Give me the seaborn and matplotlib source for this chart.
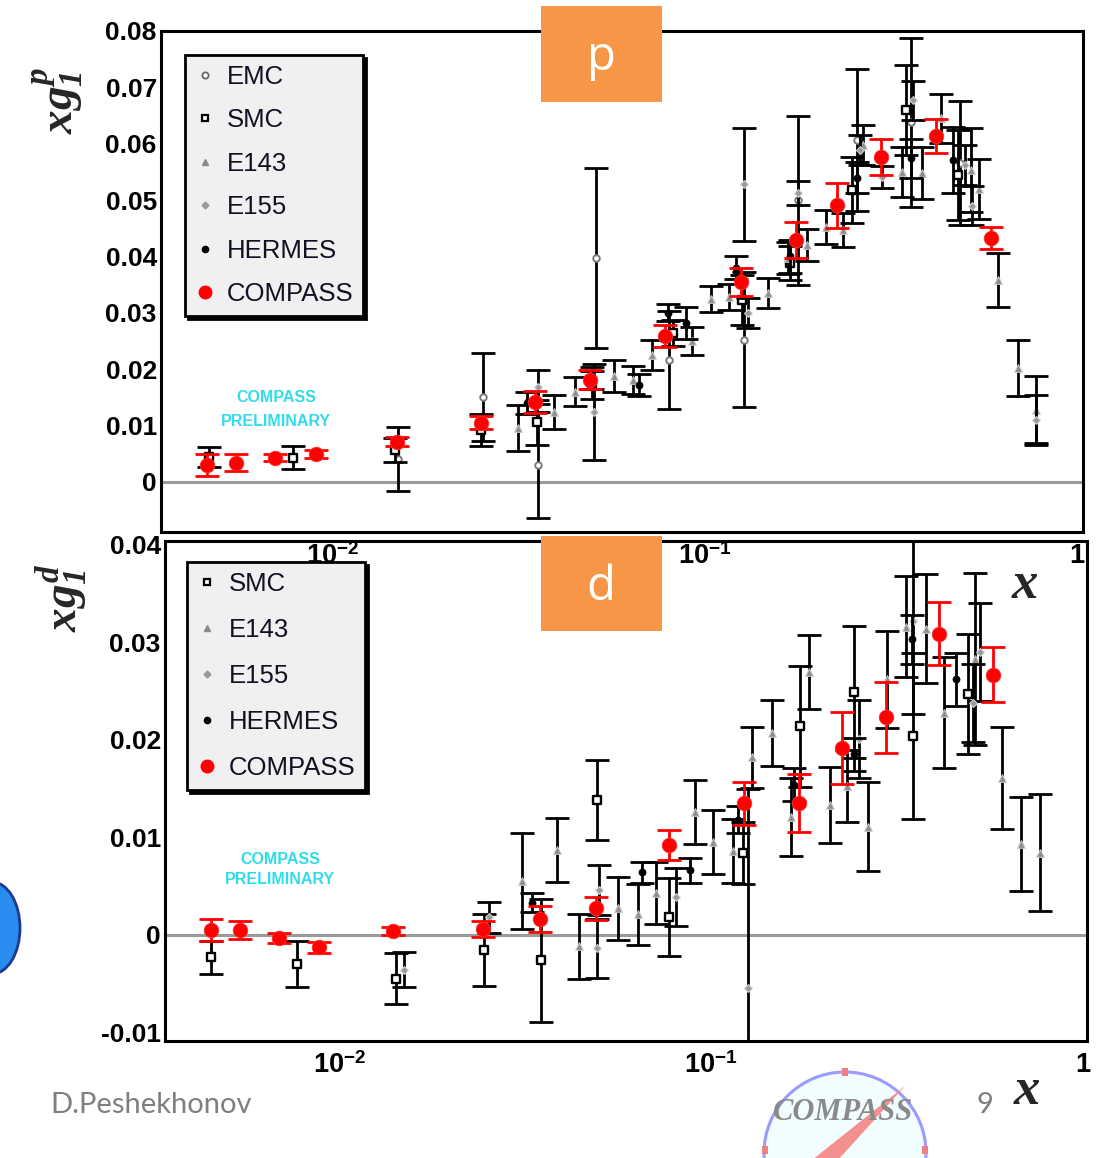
import numpy as np
import matplotlib
matplotlib.use("Agg")
import matplotlib.pyplot as plt
import seaborn as sns
from matplotlib.lines import Line2D
from matplotlib.patches import Rectangle, Polygon, Ellipse
from matplotlib.ticker import FixedLocator, MultipleLocator, FuncFormatter, LogLocator, NullFormatter

# ---------------- data: proton (top panel) ----------------
EMC_P_X = [0.0150, 0.0253, 0.0356, 0.0509, 0.0800, 0.1273, 0.178, 0.256, 0.358, 0.484]
EMC_P_Y = [0.0041, 0.0151, 0.0030, 0.0397, 0.0216, 0.0252, 0.0500, 0.0606, 0.0638, 0.0566]
EMC_P_E = [0.0057, 0.0078, 0.0094, 0.0160, 0.0087, 0.0120, 0.0150, 0.0126, 0.0150, 0.0110]

SMC_P_X = [0.00464, 0.0078, 0.0147, 0.0250, 0.0353, 0.0497, 0.0820, 0.1257, 0.169, 0.248, 0.347, 0.480]
SMC_P_Y = [0.0044, 0.0043, 0.0057, 0.0092, 0.0106, 0.0172, 0.0264, 0.0323, 0.0388, 0.0518, 0.0660, 0.0544]
SMC_P_E = [0.0018, 0.0021, 0.0021, 0.0028, 0.0040, 0.0025, 0.0023, 0.0044, 0.0030, 0.0059, 0.0080, 0.0080]

E143_P_X = [0.0314, 0.0393, 0.0447, 0.0569, 0.0640, 0.0721, 0.0923, 0.1038, 0.1161, 0.1476, 0.1671, 0.188,
            0.2115, 0.235, 0.266, 0.339, 0.383, 0.431, 0.519, 0.545, 0.614, 0.694, 0.776]
E143_P_Y = [0.0096, 0.0124, 0.0160, 0.0188, 0.0181, 0.0225, 0.0250, 0.0324, 0.0328, 0.0335, 0.0397, 0.0420,
            0.0452, 0.0447, 0.0598, 0.0550, 0.0548, 0.0645, 0.0553, 0.0520, 0.0358, 0.0202, 0.0128]
E143_P_E = [0.0041, 0.0030, 0.0026, 0.0028, 0.0025, 0.0027, 0.0025, 0.0023, 0.0023, 0.0026, 0.0029, 0.0029,
            0.0030, 0.0030, 0.0035, 0.0044, 0.0046, 0.0044, 0.0074, 0.0053, 0.0048, 0.0050, 0.0059]

E155_P_X = [0.0356, 0.0503, 0.127, 0.1306, 0.178, 0.261, 0.299, 0.362, 0.50, 0.523, 0.776]
E155_P_Y = [0.0168, 0.0124, 0.0528, 0.0300, 0.0512, 0.0589, 0.0541, 0.0677, 0.0562, 0.0490, 0.0110]
E155_P_E = [0.0030, 0.0085, 0.0100, 0.0027, 0.0021, 0.0027, 0.0020, 0.0035, 0.0035, 0.0035, 0.0044]

HERMES_P_X = [0.0332, 0.0496, 0.0664, 0.0796, 0.0888, 0.121, 0.169, 0.256, 0.358, 0.465]
HERMES_P_Y = [0.0140, 0.0184, 0.0172, 0.0300, 0.0282, 0.0380, 0.0400, 0.0540, 0.0574, 0.0571]
HERMES_P_E = [0.0020, 0.0020, 0.0020, 0.0015, 0.0029, 0.0020, 0.0030, 0.0028, 0.0035, 0.0059]

COMPASS_P_X = [0.0046, 0.0055, 0.0070, 0.0090, 0.0149, 0.0250, 0.0350, 0.0490, 0.0780, 0.1250,
               0.1760, 0.2270, 0.2970, 0.4170, 0.5870]
COMPASS_P_Y = [0.0030, 0.0034, 0.0043, 0.0050, 0.0071, 0.0105, 0.0142, 0.0181, 0.0259, 0.0355,
               0.0429, 0.0491, 0.0576, 0.0613, 0.0433]
COMPASS_P_E = [0.0019, 0.0015, 0.0006, 0.0007, 0.0008, 0.0012, 0.0020, 0.0017, 0.0020, 0.0025,
               0.0032, 0.0040, 0.0032, 0.0030, 0.0020]

# ---------------- data: deuteron (bottom panel) ----------------
SMC_D_X = [0.00453, 0.0077, 0.0142, 0.0245, 0.0349, 0.0494, 0.0771, 0.122, 0.173, 0.242, 0.349, 0.491]
SMC_D_Y = [-0.0023, -0.0030, -0.0045, -0.0016, -0.0026, 0.0138, 0.0018, 0.0084, 0.0214, 0.0249, 0.0204, 0.0247]
SMC_D_E = [0.0017, 0.0024, 0.0026, 0.0037, 0.0063, 0.0041, 0.0040, 0.0032, 0.0062, 0.0068, 0.0085, 0.0062]

E143_D_X = [0.031, 0.0385, 0.0442, 0.0562, 0.0637, 0.0711, 0.0906, 0.1012, 0.1146, 0.129, 0.1459, 0.164,
            0.183, 0.209, 0.2325, 0.264, 0.297, 0.334, 0.378, 0.423, 0.513, 0.606, 0.68, 0.766]
E143_D_Y = [0.0055, 0.0087, -0.0012, 0.0027, 0.0021, 0.0043, 0.0126, 0.0095, 0.0086, 0.0182, 0.0207, 0.0121,
            0.0270, 0.0133, 0.0153, 0.0111, 0.0262, 0.0316, 0.0314, 0.0228, 0.0283, 0.0161, 0.0093, 0.0084]
E143_D_E = [0.0049, 0.0033, 0.0033, 0.0032, 0.0031, 0.0032, 0.0033, 0.0033, 0.0033, 0.0031, 0.0034, 0.0040,
            0.0038, 0.0039, 0.0037, 0.0046, 0.0050, 0.0052, 0.0056, 0.0057, 0.0088, 0.0052, 0.0048, 0.0060]

E155_D_X = [0.0149, 0.0252, 0.0494, 0.050, 0.0805, 0.1257, 0.25, 0.349, 0.506, 0.53]
E155_D_Y = [-0.0036, 0.0018, -0.0014, 0.0046, 0.0039, -0.0055, 0.0201, 0.0322, 0.0238, 0.029]
E155_D_E = [0.0018, 0.0016, 0.0030, 0.0026, 0.0030, 0.0205, 0.0040, 0.0095, 0.0040, 0.0050]

HERMES_D_X = [0.033, 0.0653, 0.0879, 0.1183, 0.167, 0.242, 0.347, 0.456]
HERMES_D_Y = [0.0033, 0.0064, 0.0066, 0.0118, 0.0154, 0.0185, 0.0303, 0.0262]
HERMES_D_E = [0.0010, 0.0011, 0.0013, 0.0014, 0.0017, 0.0017, 0.0025, 0.0027]

COMPASS_D_X = [0.00453, 0.00542, 0.0069, 0.00883, 0.01397, 0.0244, 0.0347, 0.0491, 0.0771, 0.1227,
               0.1724, 0.225, 0.295, 0.410, 0.573]
COMPASS_D_Y = [0.0005, 0.0005, -0.0003, -0.0013, 0.0004, 0.0006, 0.0016, 0.0027, 0.0092, 0.0135,
               0.0135, 0.0192, 0.0223, 0.0309, 0.0267]
COMPASS_D_E = [0.0011, 0.0009, 0.0005, 0.0006, 0.0004, 0.0008, 0.0013, 0.0012, 0.0015, 0.0022,
               0.0030, 0.0037, 0.0036, 0.0032, 0.0028]

TOP_YTICKS = [0.0, 0.01, 0.02, 0.03, 0.04, 0.05, 0.06, 0.07, 0.08]
BOT_YTICKS = [-0.01, 0.0, 0.01, 0.02, 0.03, 0.04]
X_TICKS = [0.01, 0.1, 1.0]
X_TICKLABELS = [r"$10^{-2}$", r"$10^{-1}$", r"$1$"]

# ---------------- style ----------------
sns.set_style("white")
plt.rcParams.update({
    "font.family": ["Liberation Sans", "DejaVu Sans"],
    "mathtext.fontset": "custom",
    "mathtext.rm": "Liberation Sans:bold",
    "mathtext.it": "Liberation Serif:italic:bold",
    "mathtext.bf": "Liberation Serif:italic:bold",
})

STYLES = {
    "EMC": dict(marker="o", s=22, color="white", edgecolor="#7a7a7a", linewidth=1.4),
    "SMC": dict(marker="s", s=34, color="white", edgecolor="black", linewidth=1.7),
    "E143": dict(marker="^", s=30, color="#8a8a8a", edgecolor="#c8c8c8", linewidth=0.8),
    "E155": dict(marker="D", s=16, color="#999999", edgecolor="#d0d0d0", linewidth=0.8),
    "HERMES": dict(marker="o", s=26, color="black", edgecolor="black", linewidth=0.5),
    "COMPASS": dict(marker="o", s=110, color="#ff0000", edgecolor="#ff3030", linewidth=0.6),
}
LEG_STYLE = {
    "EMC": dict(marker="o", markersize=4.5, markerfacecolor="white", markeredgecolor="#666666", markeredgewidth=1.3),
    "SMC": dict(marker="s", markersize=5, markerfacecolor="white", markeredgecolor="black", markeredgewidth=1.6),
    "E143": dict(marker="^", markersize=4.5, markerfacecolor="#8a8a8a", markeredgecolor="#8a8a8a"),
    "E155": dict(marker="D", markersize=3.5, markerfacecolor="#999999", markeredgecolor="#999999"),
    "HERMES": dict(marker="o", markersize=4.5, markerfacecolor="black", markeredgecolor="black"),
    "COMPASS": dict(marker="o", markersize=9, markerfacecolor="#ff0000", markeredgecolor="#ff0000"),
}

W, H = 1099, 1158
fig = plt.figure(figsize=(W / 100, H / 100), dpi=100)
fig.patch.set_facecolor("white")


def fx(px):
    return px / W


def fy(py):
    return 1 - py / H


ax1 = fig.add_axes([fx(161), fy(532), (1083 - 161) / W, (532 - 31) / H])
ax2 = fig.add_axes([fx(165), fy(1041), (1087 - 165) / W, (1041 - 541) / H])
ax1.set_zorder(3)


def draw_set(ax, name, X, Y, E, z):
    ecol = "#ff0000" if name == "COMPASS" else "black"
    ax.errorbar(X, Y, yerr=E, fmt="none", ecolor=ecol, elinewidth=2.0,
                capsize=8.5, capthick=2.0, zorder=z)
    st = STYLES[name]
    sns.scatterplot(x=np.array(X), y=np.array(Y), ax=ax, marker=st["marker"], s=st["s"],
                    color=st["color"], edgecolor=st["edgecolor"], linewidth=st["linewidth"],
                    zorder=z + 0.5, legend=False)


def style_axes(ax, xlim, ylim, yticks):
    ax.set_xscale("log")
    ax.set_xlim(*xlim)
    ax.set_ylim(*ylim)
    ax.axhline(0, color="#9a9a9a", lw=2.2, zorder=1)
    ax.xaxis.set_major_locator(FixedLocator(X_TICKS))
    ax.xaxis.set_major_formatter(FuncFormatter(lambda v, p: X_TICKLABELS[X_TICKS.index(v)] if v in X_TICKS else ""))
    ax.xaxis.set_minor_locator(LogLocator(base=10, subs=np.arange(2, 10)))
    ax.xaxis.set_minor_formatter(NullFormatter())
    ax.yaxis.set_major_locator(FixedLocator(yticks))
    ax.yaxis.set_minor_locator(MultipleLocator(0.002))
    ax.yaxis.set_major_formatter(FuncFormatter(lambda v, p: "0" if abs(v) < 1e-9 else f"{v:.2f}"))
    ax.tick_params(axis="both", which="both", direction="in", top=False, right=False,
                   width=2.2, colors="black")
    ax.tick_params(axis="y", which="major", length=21, labelsize=19, pad=3)
    ax.tick_params(axis="y", which="minor", length=10.5)
    ax.tick_params(axis="x", which="major", length=18, labelsize=19.5, pad=8)
    ax.tick_params(axis="x", which="minor", length=10)
    for lab in ax.get_yticklabels():
        lab.set_fontweight("bold")
    for sp in ax.spines.values():
        sp.set_linewidth(2.2)
        sp.set_color("black")
    ax.set_xlabel("")
    ax.set_ylabel("")
    ax.grid(False)


# ---- top panel ----
top_sets = [("EMC", EMC_P_X, EMC_P_Y, EMC_P_E), ("SMC", SMC_P_X, SMC_P_Y, SMC_P_E),
            ("E143", E143_P_X, E143_P_Y, E143_P_E), ("E155", E155_P_X, E155_P_Y, E155_P_E),
            ("HERMES", HERMES_P_X, HERMES_P_Y, HERMES_P_E), ("COMPASS", COMPASS_P_X, COMPASS_P_Y, COMPASS_P_E)]
for i, (n, X, Y, E) in enumerate(top_sets):
    draw_set(ax1, n, X, Y, E, 3 + i)
style_axes(ax1, (0.00345, 1.038), (-0.0089, 0.08), TOP_YTICKS)

# ---- bottom panel ----
bot_sets = [("SMC", SMC_D_X, SMC_D_Y, SMC_D_E), ("E143", E143_D_X, E143_D_Y, E143_D_E),
            ("E155", E155_D_X, E155_D_Y, E155_D_E), ("HERMES", HERMES_D_X, HERMES_D_Y, HERMES_D_E),
            ("COMPASS", COMPASS_D_X, COMPASS_D_Y, COMPASS_D_E)]
for i, (n, X, Y, E) in enumerate(bot_sets):
    draw_set(ax2, n, X, Y, E, 3 + i)
style_axes(ax2, (0.0034, 1.025), (-0.0109, 0.0404), BOT_YTICKS)


def make_legend(ax, names, anchor, spacing, bpad):
    handles = [Line2D([], [], linestyle="none", **LEG_STYLE[n]) for n in names]
    leg = ax.legend(handles, names, loc="upper left", bbox_to_anchor=anchor, borderaxespad=0,
                    fontsize=18.5, frameon=True, fancybox=False, framealpha=1, facecolor="#f0f0f0",
                    edgecolor="black", borderpad=bpad, labelspacing=spacing, handlelength=0.8,
                    handletextpad=0.45, shadow={"color": "black", "alpha": 1})
    leg.get_frame().set_linewidth(2.0)
    for t in leg.get_texts():
        t.set_color("#111122")
    leg.set_zorder(20)
    return leg


make_legend(ax1, ["EMC", "SMC", "E143", "E155", "HERMES", "COMPASS"], (0.026, 0.952), 0.76, 0.38)
make_legend(ax2, ["SMC", "E143", "E155", "HERMES", "COMPASS"], (0.024, 0.958), 0.86, 0.38)

# ---- preliminary labels ----
for (cx, y1, y2) in [(276, 397, 421), (280, 859, 879)]:
    fig.text(fx(cx), fy(y1), "COMPASS", color="#30dcea", fontsize=11.5, fontweight="bold",
             ha="center", va="center", zorder=30)
    fig.text(fx(cx), fy(y2), "PRELIMINARY", color="#30dcea", fontsize=11.5, fontweight="bold",
             ha="center", va="center", zorder=30)

# ---- axis titles ----
fig.text(fx(58), fy(100), r"$xg^{p}_{\mathbf{1}}$", rotation=90, fontsize=34, ha="center", va="center", zorder=30)
fig.text(fx(62), fy(598), r"$xg^{d}_{\mathbf{1}}$", rotation=90, fontsize=34, ha="center", va="center", zorder=30)
for (px, py) in [(1025, 585), (1027, 1091)]:
    fig.text(fx(px), fy(py), "x", fontsize=38, family="Liberation Serif", style="italic",
             weight="bold", ha="center", va="center", zorder=30)

# ---- orange tags ----
for (top, bot, lab, base) in [(6, 102, "p", 70), (536, 631, "d", 600)]:
    fig.add_artist(Rectangle((fx(541), fy(bot)), (662 - 541) / W, (bot - top) / H,
                             transform=fig.transFigure, facecolor="#f79646", edgecolor="none", zorder=40))
    fig.text(fx(601), fy(base), lab, color="white", fontsize=34, family="Open Sans",
             ha="center", va="baseline", zorder=41)

# ---- footer ----
fig.text(fx(50), fy(1105), "D.Peshekhonov", color="#7f7f7f", fontsize=21, family="Lato", va="center", zorder=30)
fig.text(fx(985), fy(1105), "9", color="#7f7f7f", fontsize=21, family="Lato", ha="center", va="center", zorder=30)

# COMPASS logo (bottom)
fig.add_artist(Ellipse((fx(845), fy(1153)), 162 / W, 162 / H, transform=fig.transFigure,
                       facecolor="#f2fdff", edgecolor="#9a9aff", lw=2.2, zorder=25))
fig.add_artist(Polygon([(fx(812), fy(1160)), (fx(905), fy(1086)), (fx(838), fy(1160))],
                       closed=True, transform=fig.transFigure, facecolor="#f59090", edgecolor="none", zorder=26))
for (px, py) in [(845, 1072), (765, 1150), (925, 1150)]:
    fig.add_artist(Rectangle((fx(px - 3), fy(py + 4)), 6 / W, 8 / H, transform=fig.transFigure,
                             facecolor="#f08080", edgecolor="none", zorder=27))
fig.text(fx(843), fy(1112), "COMPASS", color="#8a8a8a", fontsize=22, family="Liberation Serif",
         style="italic", weight="bold", ha="center", va="center", zorder=28)

# partial blue logo at left edge
fig.add_artist(Ellipse((fx(-8), fy(928)), 56 / W, 92 / H, transform=fig.transFigure,
                       facecolor="#2a8cf0", edgecolor="#1a3a90", lw=2, zorder=25))

fig.savefig("out.png", dpi=100, facecolor="white")
